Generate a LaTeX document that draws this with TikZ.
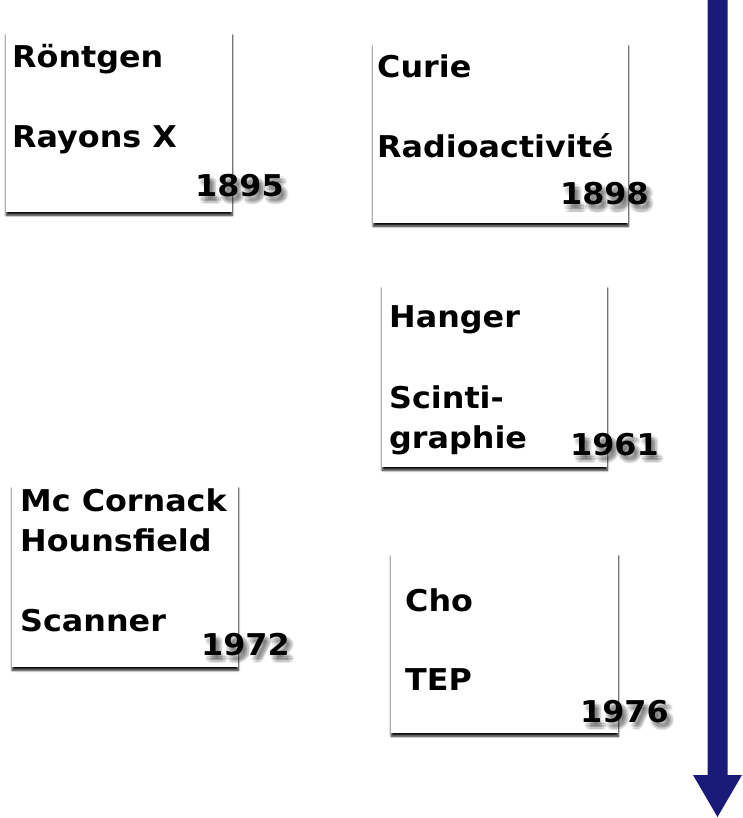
\documentclass[tikz,border=0pt]{standalone}
\usepackage{fontspec}
\setmainfont{DejaVu Sans}
\newfontfamily\cardfont[FakeStretch=1.06]{DejaVu Sans Bold}
\usetikzlibrary{shadows.blur}
\definecolor{arrowblue}{HTML}{1A1A78}
\tikzset{
  x=1pt, y=-1pt,
  card/.style={fill=white, draw=none, inner sep=0pt, anchor=north west,
    blur shadow={shadow xshift=0pt, shadow yshift=-3pt, shadow blur radius=2.2pt, shadow blur steps=8, shadow opacity=95}},
  txt/.style={anchor=base west, inner sep=0pt, font=\fontsize{30}{40}\cardfont},
  yearshadow/.style={anchor=base west, inner sep=0pt, font=\fontsize{30}{40}\cardfont, text=black, text opacity=0.08},
}
\newcommand{\yearlabel}[4]{%
  \foreach \dx/\dy in {4/5,2/4,6/4,2/7,6/7,4/2,4/8,1/5,7/5}{%
    \node[yearshadow] (#1s\dx\dy) at (#2+\dx,#3+\dy) {#4};}
  \node[txt] (#1) at (#2,#3) {#4};}
\begin{document}
\begin{tikzpicture}
\useasboundingbox (0,0) rectangle (742,818);
% cards
\node[card, minimum width=226pt, minimum height=180pt] (c1) at (6,32) {};
\node[card, minimum width=255pt, minimum height=180pt] (c2) at (373,43) {};
\node[card, minimum width=225pt, minimum height=182pt] (c3) at (382,285) {};
\node[card, minimum width=226pt, minimum height=182pt] (c4) at (12,485) {};
\node[card, minimum width=227pt, minimum height=180pt] (c5) at (391,553) {};
% texts
\node[txt] (t1a) at (12,68) {Röntgen};
\node[txt] (t1b) at (12,148) {Rayons X};
\yearlabel{y1}{195}{197}{1895}
\node[txt] (t2a) at (377,78) {Curie};
\node[txt] (t2b) at (377,158) {Radioactivité};
\yearlabel{y2}{560}{205}{1898}
\node[txt] (t3a) at (389,327) {Hanger};
\node[txt] (t3b) at (389,408) {Scinti-};
\node[txt] (t3c) at (389,448) {graphie};
\yearlabel{y3}{570}{455}{1961}
\node[txt] (t4a) at (20,511) {Mc Cornack};
\node[txt] (t4b) at (20,551) {Hounsfield};
\node[txt] (t4c) at (20,631) {Scanner};
\yearlabel{y4}{201}{655}{1972}
\node[txt] (t5a) at (405,611) {Cho};
\node[txt] (t5b) at (405,690) {TEP};
\yearlabel{y5}{580}{722}{1976}
% arrow
\coordinate (atop) at (717.5,0);
\coordinate (atip) at (717.5,817);
\fill[arrowblue] (707.5,0) -- (727.5,0) -- (727.5,775) -- (742,775) -- (atip) -- (693,775) -- (707.5,775) -- cycle;
\end{tikzpicture}
\end{document}
